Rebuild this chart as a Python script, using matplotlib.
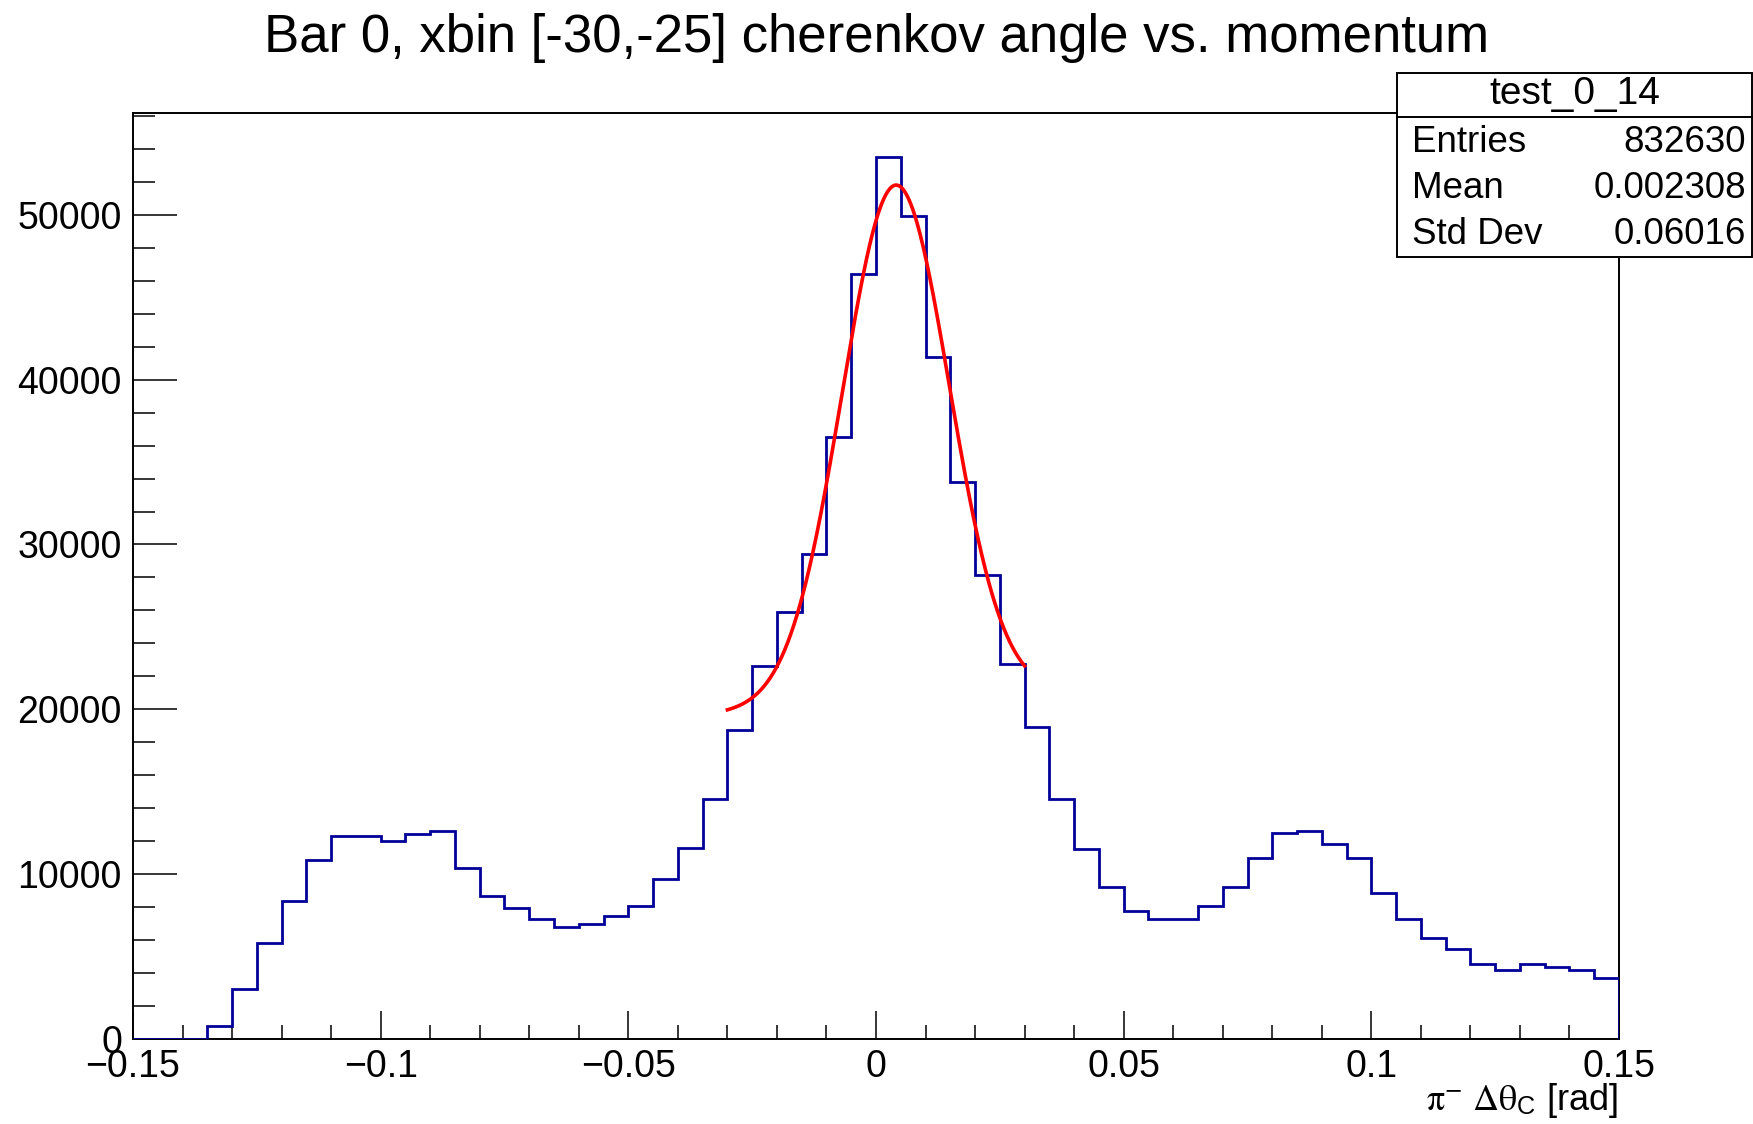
import numpy as np
import matplotlib
matplotlib.use('Agg')
import matplotlib.pyplot as plt
from matplotlib.patches import Rectangle
from matplotlib.lines import Line2D
from matplotlib.ticker import MultipleLocator

plt.rcParams['font.family'] = ['Liberation Sans', 'DejaVu Sans']
plt.rcParams['mathtext.fontset'] = 'stix'

# histogram binning: 60 bins of 0.005 rad
x_lo, x_hi, n_bins = -0.15, 0.15, 60
counts = [0, 0, 0, 800, 3050, 5800, 8400, 10850, 12300, 12300,
          12000, 12450, 12600, 10350, 8700, 7950, 7300, 6800, 6950, 7450,
          8050, 9700, 11600, 14550, 18750, 22650, 25900, 29400, 36550, 46400,
          53500, 49950, 41350, 33800, 28150, 22750, 18900, 14580, 11500, 9220,
          7750, 7300, 7300, 8070, 9230, 11000, 12500, 12630, 11820, 11000,
          8880, 7300, 6150, 5480, 4520, 4200, 4520, 4360, 4200, 3690]

# fit (gaus + pol1) over [-0.03, 0.03]
fit_lo, fit_hi = -0.03, 0.03
fit_amp = 31400
fit_mean = 0.004
fit_sigma = 0.0108
fit_bg = [20325, 19200]   # p0 + p1*x

title = 'Bar 0, xbin [-30,-25] cherenkov angle vs. momentum'
xlabel = r'$\mathrm{\pi}^{-}\ \mathrm{\Delta\theta}_{\mathregular{C}}$ [rad]'
stats_name = 'test_0_14'
stats_keys = ['Entries', 'Mean', 'Std Dev']
stats_vals = ['832630', '0.002308', '0.06016']

W, H = 1753, 1124
fig = plt.figure(figsize=(W / 100, H / 100), dpi=100)
ax = fig.add_axes([133 / W, 1 - 1039 / H, (1619 - 133) / W, (1039 - 113) / H])

edges = np.linspace(x_lo, x_hi, n_bins + 1)
ax.stairs(counts, edges, color='#000099', lw=2.0, zorder=3)

xf = np.linspace(fit_lo, fit_hi, 300)
yf = fit_amp * np.exp(-0.5 * ((xf - fit_mean) / fit_sigma) ** 2) + fit_bg[0] + fit_bg[1] * xf
ax.plot(xf, yf, color='#ff0000', lw=2.6, zorder=4)

ax.set_xlim(x_lo, x_hi)
ax.set_ylim(0, 1.05 * max(counts))

ax.xaxis.set_major_locator(MultipleLocator(0.05))
ax.xaxis.set_minor_locator(MultipleLocator(0.01))
ax.yaxis.set_major_locator(MultipleLocator(10000))
ax.yaxis.set_minor_locator(MultipleLocator(2000))
ax.xaxis.set_major_formatter(plt.FuncFormatter(lambda v, p: '0' if abs(v) < 1e-9 else ('%g' % v).replace('-', '\u2212')))
ax.yaxis.set_major_formatter(plt.FuncFormatter(lambda v, p: '%d' % round(v)))

ax.tick_params(axis='x', which='major', direction='in', length=20, width=1.1, labelsize=27, pad=7)
ax.tick_params(axis='x', which='minor', direction='in', length=10, width=1.1)
ax.tick_params(axis='y', which='major', direction='in', length=31.5, width=1.1, labelsize=27, pad=8)
ax.tick_params(axis='y', which='minor', direction='in', length=15.8, width=1.1)
ax.tick_params(top=False, right=False, which='both')
for sp in ax.spines.values():
    sp.set_linewidth(1.4)

fig.text(0.5, 1 - 52 / H, title, ha='center', va='baseline', fontsize=38)
fig.text(1618 / W, 1 - 1101 / H, xlabel, ha='right', va='center', fontsize=26)

# stats box
bx0, bx1 = 1397 / W, 1752 / W
by_top, by_bot = 1 - 73 / H, 1 - 257 / H
fig.add_artist(Rectangle((bx0, by_bot), bx1 - bx0, by_top - by_bot, transform=fig.transFigure,
                         facecolor='white', edgecolor='black', lw=1.4, zorder=10))
fig.add_artist(Line2D([bx0, bx1], [1 - 117 / H] * 2, transform=fig.transFigure,
                      color='black', lw=1.4, zorder=11))
fig.text((bx0 + bx1) / 2, 1 - 94 / H, stats_name, ha='center', va='center', fontsize=28, zorder=12)
rows_y = [142, 188, 235]
for k, v, yy in zip(stats_keys, stats_vals, rows_y):
    fig.text(1412 / W, 1 - yy / H, k, ha='left', va='center', fontsize=26.5, zorder=12)
    fig.text(1746 / W, 1 - yy / H, v, ha='right', va='center', fontsize=26.5, zorder=12)

fig.savefig('out.png', dpi=100)
